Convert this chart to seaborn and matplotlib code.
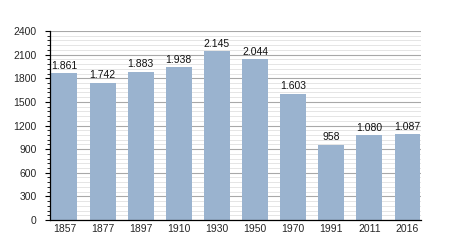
import matplotlib
matplotlib.use("Agg")
import matplotlib.pyplot as plt
import seaborn as sns
import pandas as pd
from matplotlib.ticker import MultipleLocator

years = ["1857", "1877", "1897", "1910", "1930", "1950", "1970", "1991", "2011", "2016"]
population = [1861, 1742, 1883, 1938, 2145, 2044, 1603, 958, 1080, 1087]
labels = ["1.861", "1.742", "1.883", "1.938", "2.145", "2.044", "1.603", "958", "1.080", "1.087"]

sns.set_style("white")
plt.rcParams['font.family'] = ['Liberation Sans', 'DejaVu Sans']

df = pd.DataFrame({"year": years, "pop": population})

fig = plt.figure(figsize=(4.5, 2.5), dpi=100)
ax = fig.add_axes([0.111, 0.12, 0.825, 0.756])

ax.yaxis.set_major_locator(MultipleLocator(300))
ax.yaxis.set_minor_locator(MultipleLocator(60))
ax.grid(which="major", axis="y", color="#a8a8a8", linewidth=0.8)
ax.grid(which="minor", axis="y", color="#e0e0e0", linewidth=0.6)
ax.set_axisbelow(True)

sns.barplot(data=df, x="year", y="pop", color="#9ab3cf", saturation=1, width=0.68,
            edgecolor="none", linewidth=0, ax=ax)

for i, (v, lab) in enumerate(zip(population, labels)):
    ax.text(i, v + 30, lab, ha="center", va="bottom", fontsize=7.5, color="#111111")

ax.set_ylim(0, 2400)
ax.set_xlim(-0.38, len(years) - 0.64)
ax.set_xlabel("")
ax.set_ylabel("")
for s in ["top", "right"]:
    ax.spines[s].set_visible(False)
ax.spines["left"].set_color("black")
ax.spines["bottom"].set_color("black")
ax.spines["left"].set_linewidth(0.9)
ax.spines["bottom"].set_linewidth(0.9)
ax.tick_params(axis="y", which="major", length=3.6, width=0.8, labelsize=7.5, left=True, color="black", pad=6)
ax.tick_params(axis="y", which="minor", length=2, width=0.6, left=True, color="black")
ax.tick_params(axis="x", length=0, labelsize=7.5, pad=3)

fig.savefig("out.png", dpi=100)
